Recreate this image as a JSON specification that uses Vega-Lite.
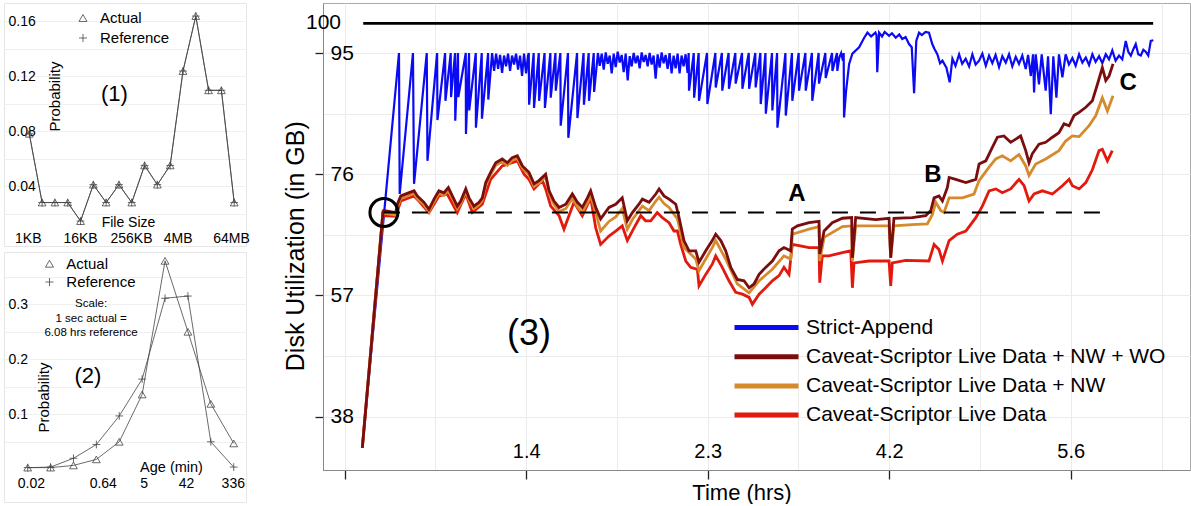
{
"$schema":"https://vega.github.io/schema/vega-lite/v6.json",
"padding":{"left":3,"top":2,"right":0,"bottom":0},
"autosize":{"type":"pad"},
"config":{"font":"Liberation Sans","view":{"stroke":null},"axis":{"labelFont":"Liberation Sans","titleFont":"Liberation Sans","labelColor":"#000","titleColor":"#000","titleFontWeight":"normal","labelOverlap":false,"labelFlush":false},"legend":{"labelFont":"Liberation Sans"},"text":{"font":"Liberation Sans"}},
"datasets":{
"fs":[
{"i":0,"p":0.078,"s":"Actual"},{"i":1,"p":0.028,"s":"Actual"},{"i":2,"p":0.028,"s":"Actual"},{"i":3,"p":0.028,"s":"Actual"},{"i":4,"p":0.0145,"s":"Actual"},{"i":5,"p":0.041,"s":"Actual"},{"i":6,"p":0.028,"s":"Actual"},{"i":7,"p":0.041,"s":"Actual"},{"i":8,"p":0.028,"s":"Actual"},{"i":9,"p":0.055,"s":"Actual"},{"i":10,"p":0.041,"s":"Actual"},{"i":11,"p":0.055,"s":"Actual"},{"i":12,"p":0.1236,"s":"Actual"},{"i":13,"p":0.1636,"s":"Actual"},{"i":14,"p":0.1096,"s":"Actual"},{"i":15,"p":0.1096,"s":"Actual"},{"i":16,"p":0.028,"s":"Actual"},
{"i":0,"p":0.078,"s":"Reference"},{"i":1,"p":0.028,"s":"Reference"},{"i":2,"p":0.028,"s":"Reference"},{"i":3,"p":0.028,"s":"Reference"},{"i":4,"p":0.0145,"s":"Reference"},{"i":5,"p":0.041,"s":"Reference"},{"i":6,"p":0.028,"s":"Reference"},{"i":7,"p":0.041,"s":"Reference"},{"i":8,"p":0.028,"s":"Reference"},{"i":9,"p":0.055,"s":"Reference"},{"i":10,"p":0.041,"s":"Reference"},{"i":11,"p":0.055,"s":"Reference"},{"i":12,"p":0.1236,"s":"Reference"},{"i":13,"p":0.1636,"s":"Reference"},{"i":14,"p":0.1096,"s":"Reference"},{"i":15,"p":0.1096,"s":"Reference"},{"i":16,"p":0.028,"s":"Reference"}],
"age":[
{"i":0,"p":0.003,"s":"Actual"},{"i":1,"p":0.003,"s":"Actual"},{"i":2,"p":0.007,"s":"Actual"},{"i":3,"p":0.018,"s":"Actual"},{"i":4,"p":0.05,"s":"Actual"},{"i":5,"p":0.136,"s":"Actual"},{"i":6,"p":0.379,"s":"Actual"},{"i":7,"p":0.25,"s":"Actual"},{"i":8,"p":0.119,"s":"Actual"},{"i":9,"p":0.047,"s":"Actual"},
{"i":0,"p":0.003,"s":"Reference"},{"i":1,"p":0.004,"s":"Reference"},{"i":2,"p":0.02,"s":"Reference"},{"i":3,"p":0.045,"s":"Reference"},{"i":4,"p":0.097,"s":"Reference"},{"i":5,"p":0.164,"s":"Reference"},{"i":6,"p":0.311,"s":"Reference"},{"i":7,"p":0.315,"s":"Reference"},{"i":8,"p":0.05,"s":"Reference"},{"i":9,"p":0.004,"s":"Reference"}],
"blue":[
{"t":9.7,"v":33.1},{"t":29.9,"v":95},{"t":30.3,"v":72.9},{"t":37.6,"v":95},{"t":38.2,"v":74.5},{"t":45.2,"v":95},{"t":45.6,"v":78.1},{"t":50.9,"v":95},{"t":51.1,"v":84.5},{"t":55.3,"v":95},{"t":55.5,"v":87.5},{"t":58.4,"v":95},{"t":58.6,"v":88.1},{"t":60.8,"v":95},{"t":60.9,"v":84.4},{"t":62.4,"v":95},{"t":62.6,"v":88.1},{"t":66.7,"v":95},{"t":66.8,"v":82.3},{"t":68.5,"v":95},{"t":68.6,"v":86.0},{"t":72.2,"v":95},{"t":72.3,"v":83.3},{"t":75.5,"v":95},{"t":75.6,"v":84.7},{"t":79.0,"v":95},{"t":79.1,"v":87.7},{"t":81.2,"v":95},
{"t":82.3,"v":92.2},{"t":83.4,"v":94.9},{"t":84.5,"v":92.5},{"t":85.6,"v":94.7},{"t":86.7,"v":91.9},{"t":87.8,"v":94.6},{"t":88.9,"v":92.9},{"t":90.0,"v":94.9},{"t":91.1,"v":92.2},{"t":92.2,"v":94.6},{"t":93.3,"v":93.2},{"t":94.4,"v":94.9},{"t":95.5,"v":92.4},{"t":96.6,"v":94.6},{"t":97.7,"v":91.4},{"t":98.8,"v":94.9},{"t":99.9,"v":91.8},{"t":101.0,"v":94.6},
{"t":101.4,"v":95},{"t":101.6,"v":86.9},{"t":104.1,"v":95},{"t":104.3,"v":86.4},{"t":106.9,"v":95},{"t":107.1,"v":87.5},{"t":110.1,"v":95},{"t":110.3,"v":86.4},{"t":113.3,"v":95},{"t":113.5,"v":88.0},{"t":116.1,"v":95},{"t":116.3,"v":89.1},{"t":118.8,"v":95},{"t":119.0,"v":83.6},{"t":123.0,"v":95},{"t":123.2,"v":81.7},{"t":128.0,"v":95},{"t":128.2,"v":84.8},{"t":131.6,"v":95},{"t":131.8,"v":86.9},{"t":134.4,"v":95},{"t":134.6,"v":87.5},{"t":137.2,"v":95},{"t":137.4,"v":88.9},{"t":139.5,"v":95},
{"t":140.5,"v":93.0},{"t":141.6,"v":94.9},{"t":142.7,"v":92.4},{"t":143.8,"v":95.1},{"t":144.9,"v":93.3},{"t":146.0,"v":94.6},{"t":147.1,"v":91.8},{"t":148.2,"v":94.9},{"t":149.3,"v":92.8},{"t":150.4,"v":95.2},{"t":151.5,"v":93.5},{"t":152.6,"v":94.7},{"t":153.7,"v":92.0},{"t":154.8,"v":94.9},{"t":155.9,"v":90.7},{"t":157.0,"v":94.5},{"t":158.1,"v":92.9},{"t":159.2,"v":95.0},{"t":160.3,"v":93.4},{"t":161.4,"v":94.6},{"t":162.5,"v":92.6},{"t":163.6,"v":95.1},{"t":164.7,"v":93.6},{"t":165.8,"v":94.7},{"t":166.9,"v":92.9},{"t":168.0,"v":95.0},{"t":169.1,"v":93.2},{"t":170.2,"v":94.6},{"t":171.3,"v":91.0},{"t":172.4,"v":94.8},{"t":173.5,"v":92.7},{"t":174.6,"v":95.1},{"t":175.7,"v":93.4},{"t":176.8,"v":94.7},{"t":177.9,"v":92.5},{"t":179.0,"v":95.0},{"t":180.1,"v":91.8},{"t":181.2,"v":94.6},{"t":182.3,"v":92.6},{"t":183.4,"v":94.9},{"t":184.5,"v":91.8},{"t":185.6,"v":94.6},{"t":186.7,"v":92.9},{"t":187.8,"v":94.8},{"t":188.9,"v":91.9},
{"t":189.5,"v":95},{"t":189.7,"v":89.1},{"t":192.3,"v":95},{"t":192.5,"v":88.0},{"t":195.0,"v":95},{"t":195.2,"v":87.5},{"t":199.6,"v":95},{"t":199.8,"v":87.0},{"t":204.2,"v":95},{"t":204.4,"v":89.6},{"t":207.8,"v":95},{"t":208.0,"v":89.1},{"t":211.5,"v":95},{"t":211.7,"v":89.4},{"t":215.2,"v":95},{"t":215.4,"v":90.2},{"t":218.9,"v":95},{"t":219.1,"v":89.4},{"t":222.6,"v":95},{"t":222.8,"v":89.4},{"t":226.2,"v":95},{"t":226.4,"v":89.6},{"t":229.0,"v":95},{"t":229.2,"v":87.0},{"t":231.8,"v":95},{"t":232.0,"v":85.5},{"t":235.4,"v":95},{"t":235.6,"v":86.0},{"t":238.2,"v":95},{"t":238.4,"v":83.3},{"t":242.8,"v":95},{"t":243.0,"v":85.2},{"t":246.4,"v":95},{"t":246.6,"v":87.5},{"t":250.1,"v":95},{"t":250.3,"v":89.1},{"t":253.8,"v":95},{"t":254.0,"v":89.1},{"t":257.4,"v":95},{"t":257.6,"v":87.5},{"t":261.1,"v":95},{"t":261.3,"v":90.2},{"t":264.8,"v":95},{"t":265.0,"v":91.1},{"t":268.5,"v":95},{"t":268.7,"v":92.2},{"t":271.2,"v":95},{"t":271.4,"v":92.2},{"t":272.5,"v":94.3},{"t":273.5,"v":95.0},{"t":274.5,"v":93.8},{"t":274.9,"v":95},{"t":275.1,"v":84.9},{"t":276.2,"v":89.0},{"t":277.9,"v":93.3},{"t":279.7,"v":94.9},{"t":283.4,"v":95.9},{"t":286.2,"v":97.4},{"t":288.0,"v":98.2},{"t":290.0,"v":97.6},{"t":292.4,"v":98.2},{"t":293.0,"v":97.8},{"t":293.4,"v":92.0},
{"t":294.4,"v":98.2},{"t":296.0,"v":97.6},{"t":297.5,"v":98.3},{"t":299.9,"v":97.7},{"t":301.5,"v":98.1},{"t":303.6,"v":97.4},{"t":305.5,"v":97.9},{"t":307.2,"v":97.2},{"t":309.0,"v":97.5},{"t":310.9,"v":96.4},{"t":312.4,"v":95.9},{"t":313.7,"v":88.7},{"t":314.9,"v":96.9},{"t":316.4,"v":98.2},{"t":318.0,"v":97.8},{"t":320.0,"v":98.3},{"t":321.9,"v":98.2},{"t":323.7,"v":96.4},{"t":325.0,"v":95.6},
{"t":326.5,"v":94.8},{"t":328.0,"v":93.4},{"t":329.3,"v":93.8},{"t":331.5,"v":92.7},{"t":333.3,"v":90.4},{"t":334.8,"v":94.1},{"t":336.5,"v":93.0},{"t":338.5,"v":94.8},{"t":340.2,"v":93.3},{"t":342.1,"v":94.1},{"t":344.0,"v":92.9},{"t":345.8,"v":94.8},{"t":347.6,"v":93.2},{"t":349.5,"v":93.8},{"t":351.3,"v":94.9},{"t":353.2,"v":93.0},{"t":355.0,"v":94.6},{"t":356.8,"v":93.4},{"t":358.6,"v":94.7},{"t":360.5,"v":92.8},{"t":362.3,"v":94.5},{"t":364.2,"v":93.5},{"t":366.0,"v":94.8},{"t":367.8,"v":92.9},{"t":369.7,"v":94.4},{"t":371.5,"v":93.3},{"t":373.3,"v":94.6},{"t":375.2,"v":92.5},{"t":376.5,"v":94.7},{"t":378.0,"v":91.4},{"t":379.2,"v":94.8},{"t":379.8,"v":88.8},{"t":380.7,"v":94.8},{"t":382.5,"v":90.1},{"t":384.0,"v":94.8},{"t":386.2,"v":89.1},{"t":387.5,"v":94.5},{"t":389.0,"v":85.4},{"t":390.4,"v":94.5},{"t":392.1,"v":88.0},{"t":393.5,"v":94.8},{"t":395.4,"v":91.2},{"t":397.2,"v":94.8},{"t":399.0,"v":93.2},{"t":400.9,"v":94.2},{"t":402.7,"v":93.0},{"t":404.6,"v":94.8},{"t":406.4,"v":93.5},{"t":408.3,"v":94.3},{"t":410.1,"v":93.1},{"t":411.9,"v":94.8},{"t":413.7,"v":93.6},{"t":415.6,"v":94.5},{"t":417.4,"v":93.4},{"t":419.3,"v":94.8},{"t":421.1,"v":94.0},{"t":422.9,"v":95.4},{"t":424.7,"v":93.8},{"t":426.6,"v":94.6},{"t":428.4,"v":94.0},{"t":430.3,"v":96.9},{"t":431.7,"v":95.2},{"t":433.1,"v":94.6},{"t":434.5,"v":95.6},{"t":435.8,"v":96.4},{"t":437.2,"v":94.8},{"t":438.6,"v":94.6},{"t":440.0,"v":95.5},{"t":441.3,"v":95.2},{"t":442.7,"v":94.6},{"t":444.1,"v":96.9},{"t":445.5,"v":97.0}],
"brown":[
{"t":9.7,"v":33.1},{"t":21.1,"v":70.1},{"t":21.7,"v":70.3},{"t":28.1,"v":70.0},{"t":29.0,"v":71.3},{"t":30.9,"v":72.6},{"t":34.5,"v":73.0},{"t":38.2,"v":73.4},{"t":40.0,"v":72.6},{"t":43.7,"v":71.6},{"t":46.4,"v":70.5},{"t":49.2,"v":72.1},{"t":51.9,"v":73.4},{"t":54.7,"v":73.1},{"t":57.1,"v":73.9},{"t":59.3,"v":72.6},{"t":62.0,"v":71.0},{"t":63.9,"v":71.8},{"t":66.7,"v":73.7},{"t":68.5,"v":72.3},{"t":71.2,"v":71.0},{"t":74.0,"v":71.6},{"t":75.8,"v":72.3},{"t":77.7,"v":74.7},{"t":80.4,"v":76.3},{"t":83.2,"v":77.8},{"t":86.8,"v":78.4},{"t":89.6,"v":77.8},{"t":92.3,"v":78.6},{"t":95.1,"v":78.9},{"t":97.9,"v":77.3},{"t":101.5,"v":76.3},{"t":104.3,"v":74.5},{"t":107.0,"v":75.0},{"t":110.7,"v":76.0},{"t":112.6,"v":73.4},{"t":115.3,"v":71.8},{"t":118.1,"v":70.8},{"t":121.8,"v":71.3},{"t":125.4,"v":72.9},{"t":128.2,"v":71.6},{"t":130.9,"v":70.8},{"t":133.7,"v":72.3},{"t":135.5,"v":73.4},{"t":138.3,"v":70.8},{"t":141.0,"v":69.0},{"t":145.6,"v":70.8},{"t":149.3,"v":71.3},{"t":152.9,"v":72.3},{"t":155.7,"v":68.7},{"t":158.5,"v":70.0},{"t":162.1,"v":71.3},{"t":164.0,"v":72.1},{"t":167.7,"v":71.6},{"t":171.4,"v":72.9},{"t":173.2,"v":73.7},{"t":175.9,"v":72.6},{"t":178.7,"v":72.1},{"t":182.4,"v":71.3},{"t":184.2,"v":69.2},{"t":186.9,"v":65.6},{"t":189.7,"v":64.0},{"t":193.4,"v":64.0},{"t":195.2,"v":62.2},{"t":198.9,"v":64.0},{"t":202.5,"v":65.6},{"t":204.4,"v":66.6},{"t":207.2,"v":65.6},{"t":209.9,"v":64.0},{"t":212.7,"v":61.4},{"t":216.3,"v":59.5},{"t":220.0,"v":59.3},{"t":222.8,"v":58.2},{"t":225.5,"v":58.8},{"t":228.3,"v":60.3},{"t":231.9,"v":61.4},{"t":235.6,"v":62.4},{"t":239.3,"v":64.0},{"t":242.0,"v":64.5},{"t":245.7,"v":64.0},{"t":246.6,"v":67.4},{"t":249.4,"v":67.9},{"t":255.8,"v":68.4},{"t":261.3,"v":68.6},{"t":261.7,"v":63.5},{"t":264.1,"v":67.1},{"t":268.6,"v":68.4},{"t":274.2,"v":69.1},{"t":279.3,"v":69.2},{"t":279.7,"v":62.9},{"t":281.5,"v":69.2},{"t":292.6,"v":68.9},{"t":299.9,"v":69.1},{"t":300.8,"v":62.9},{"t":302.6,"v":69.1},{"t":312.7,"v":69.2},{"t":320.1,"v":69.5},{"t":322.9,"v":70.3},{"t":324.7,"v":72.3},{"t":327.4,"v":72.6},{"t":329.3,"v":71.8},{"t":332.0,"v":73.9},{"t":333.0,"v":75.5},{"t":336.6,"v":75.2},{"t":342.2,"v":74.7},{"t":347.7,"v":75.2},{"t":349.5,"v":77.6},{"t":353.2,"v":78.1},{"t":356.8,"v":80.2},{"t":359.6,"v":81.8},{"t":363.2,"v":82.0},{"t":366.9,"v":81.0},{"t":369.7,"v":81.5},{"t":372.4,"v":82.0},{"t":375.2,"v":79.7},{"t":377.0,"v":77.8},{"t":378.8,"v":79.2},{"t":382.5,"v":80.7},{"t":386.2,"v":81.0},{"t":389.9,"v":81.8},{"t":393.5,"v":82.5},{"t":396.3,"v":83.9},{"t":399.1,"v":83.6},{"t":401.8,"v":85.2},{"t":404.6,"v":85.7},{"t":408.3,"v":86.5},{"t":411.9,"v":87.5},{"t":414.7,"v":90.1},{"t":417.4,"v":92.7},{"t":419.3,"v":90.7},{"t":421.1,"v":91.4},{"t":423.3,"v":93.3}],
"orange":[
{"t":9.7,"v":33.1},{"t":21.1,"v":70.1},{"t":21.7,"v":69.9},{"t":28.1,"v":69.6},{"t":29.0,"v":70.9},{"t":30.9,"v":72.2},{"t":34.5,"v":72.6},{"t":38.2,"v":73.0},{"t":40.0,"v":72.2},{"t":43.7,"v":71.2},{"t":46.4,"v":70.1},{"t":49.2,"v":71.7},{"t":51.9,"v":73.0},{"t":54.7,"v":72.7},{"t":57.1,"v":73.5},{"t":59.3,"v":72.2},{"t":62.0,"v":70.6},{"t":63.9,"v":71.4},{"t":66.7,"v":73.3},{"t":68.5,"v":71.9},{"t":71.2,"v":70.6},{"t":74.0,"v":71.2},{"t":75.8,"v":71.9},{"t":77.7,"v":74.3},{"t":80.4,"v":75.9},{"t":83.2,"v":77.4},{"t":86.8,"v":78.0},{"t":89.6,"v":77.4},{"t":92.3,"v":78.2},{"t":95.1,"v":78.5},{"t":97.9,"v":76.9},{"t":101.5,"v":75.9},{"t":104.3,"v":74.1},{"t":107.0,"v":74.6},{"t":110.7,"v":75.6},{"t":112.6,"v":73.0},{"t":115.3,"v":71.3},{"t":118.1,"v":70.2},{"t":121.8,"v":70.6},{"t":125.4,"v":72.2},{"t":128.2,"v":70.9},{"t":130.9,"v":70.0},{"t":133.7,"v":71.5},{"t":135.5,"v":72.6},{"t":138.3,"v":70.0},{"t":141.0,"v":67.1},{"t":145.6,"v":68.6},{"t":149.3,"v":69.3},{"t":152.9,"v":70.6},{"t":155.7,"v":67.4},{"t":158.5,"v":68.9},{"t":162.1,"v":70.3},{"t":164.0,"v":71.0},{"t":167.7,"v":70.3},{"t":171.4,"v":71.8},{"t":173.2,"v":72.4},{"t":175.9,"v":71.4},{"t":178.7,"v":70.8},{"t":183.3,"v":69.0},{"t":186.9,"v":64.5},{"t":193.4,"v":62.7},{"t":195.2,"v":60.9},{"t":202.5,"v":64.5},{"t":204.4,"v":65.6},{"t":209.9,"v":62.7},{"t":216.3,"v":58.8},{"t":222.8,"v":57.4},{"t":228.3,"v":59.3},{"t":235.6,"v":61.1},{"t":242.0,"v":63.2},{"t":245.7,"v":62.7},{"t":246.6,"v":66.6},{"t":255.8,"v":67.4},{"t":261.3,"v":67.8},{"t":261.7,"v":62.4},{"t":264.1,"v":66.1},{"t":274.2,"v":67.8},{"t":279.3,"v":67.9},{"t":279.7,"v":62.4},{"t":281.5,"v":67.9},{"t":299.9,"v":67.9},{"t":300.8,"v":62.9},{"t":302.6,"v":67.9},{"t":312.7,"v":68.1},{"t":321.0,"v":68.2},{"t":323.8,"v":69.7},{"t":325.6,"v":71.6},{"t":328.4,"v":70.3},{"t":330.2,"v":70.0},{"t":333.0,"v":72.3},{"t":340.3,"v":72.3},{"t":346.7,"v":72.9},{"t":349.5,"v":75.0},{"t":355.0,"v":77.1},{"t":358.7,"v":78.4},{"t":362.3,"v":78.9},{"t":366.9,"v":78.1},{"t":371.5,"v":79.1},{"t":375.2,"v":77.3},{"t":377.0,"v":75.8},{"t":380.7,"v":77.6},{"t":386.2,"v":78.4},{"t":393.5,"v":79.7},{"t":397.2,"v":81.2},{"t":400.9,"v":82.0},{"t":404.6,"v":81.9},{"t":410.1,"v":83.6},{"t":413.8,"v":85.2},{"t":417.4,"v":88.0},{"t":420.2,"v":85.9},{"t":423.3,"v":88.3}],
"red":[
{"t":9.7,"v":33.1},{"t":21.1,"v":70.1},{"t":21.7,"v":69.5},{"t":28.1,"v":69.4},{"t":30.9,"v":71.8},{"t":38.2,"v":72.6},{"t":40.9,"v":71.8},{"t":46.4,"v":70.0},{"t":51.9,"v":72.6},{"t":56.5,"v":72.9},{"t":62.0,"v":70.0},{"t":66.7,"v":72.9},{"t":70.3,"v":70.0},{"t":75.8,"v":71.3},{"t":80.4,"v":75.2},{"t":86.8,"v":77.3},{"t":92.3,"v":77.8},{"t":95.1,"v":78.1},{"t":98.8,"v":76.0},{"t":101.5,"v":75.2},{"t":104.3,"v":73.7},{"t":108.9,"v":75.0},{"t":110.7,"v":73.7},{"t":113.5,"v":71.0},{"t":118.1,"v":69.5},{"t":120.8,"v":67.4},{"t":126.3,"v":71.6},{"t":130.9,"v":69.5},{"t":135.5,"v":72.3},{"t":138.3,"v":67.6},{"t":141.0,"v":65.0},{"t":145.6,"v":66.3},{"t":149.3,"v":67.1},{"t":152.9,"v":67.9},{"t":155.7,"v":65.6},{"t":159.4,"v":67.6},{"t":163.1,"v":69.5},{"t":165.8,"v":68.7},{"t":168.6,"v":68.7},{"t":172.2,"v":70.0},{"t":175.0,"v":69.2},{"t":178.7,"v":68.4},{"t":181.4,"v":67.1},{"t":183.3,"v":67.1},{"t":185.1,"v":65.0},{"t":187.9,"v":62.4},{"t":190.6,"v":61.4},{"t":194.3,"v":61.1},{"t":195.2,"v":58.5},{"t":198.9,"v":60.3},{"t":202.5,"v":61.9},{"t":204.4,"v":63.2},{"t":208.0,"v":61.4},{"t":211.7,"v":59.3},{"t":215.4,"v":57.5},{"t":219.1,"v":57.2},{"t":222.8,"v":56.7},{"t":224.6,"v":55.6},{"t":228.3,"v":57.2},{"t":231.9,"v":58.2},{"t":235.6,"v":59.3},{"t":239.3,"v":60.1},{"t":242.0,"v":61.4},{"t":244.8,"v":60.3},{"t":246.6,"v":65.0},{"t":250.3,"v":64.8},{"t":255.8,"v":64.5},{"t":261.3,"v":64.5},{"t":261.7,"v":59.0},{"t":263.1,"v":63.2},{"t":266.8,"v":63.2},{"t":274.2,"v":63.7},{"t":278.8,"v":64.0},{"t":279.7,"v":58.2},{"t":280.6,"v":62.1},{"t":288.9,"v":62.4},{"t":299.9,"v":62.4},{"t":300.8,"v":58.5},{"t":301.7,"v":62.1},{"t":309.1,"v":62.5},{"t":321.9,"v":62.4},{"t":324.7,"v":65.0},{"t":327.4,"v":64.2},{"t":329.3,"v":62.4},{"t":333.0,"v":65.6},{"t":337.5,"v":66.6},{"t":342.2,"v":67.1},{"t":347.7,"v":69.2},{"t":351.3,"v":71.0},{"t":355.0,"v":73.4},{"t":358.7,"v":73.7},{"t":362.3,"v":73.1},{"t":366.9,"v":73.7},{"t":371.5,"v":75.2},{"t":374.3,"v":74.2},{"t":377.0,"v":71.8},{"t":379.8,"v":72.9},{"t":384.4,"v":73.4},{"t":389.9,"v":72.9},{"t":395.4,"v":74.2},{"t":399.1,"v":75.2},{"t":400.9,"v":74.2},{"t":404.6,"v":73.7},{"t":408.3,"v":74.7},{"t":411.9,"v":76.7},{"t":415.6,"v":79.7},{"t":417.4,"v":79.9},{"t":420.2,"v":78.1},{"t":422.9,"v":79.7}]
},
"bounds":"flush",
"spacing":319,
"resolve":{"scale":{"color":"independent","shape":"independent"},"legend":{"color":"independent","shape":"independent"}},
"hconcat":[
{"vconcat":[
{"width":242,"height":243,"view":{"stroke":"#e6e6e6"},"data":{"name":"fs"},
"encoding":{
"x":{"field":"i","type":"quantitative","scale":{"domain":[-1.975,16.92],"nice":false,"zero":false},"axis":{"values":[-0.12,3.96,7.94,11.58,15.75],"labelExpr":"datum.value < 2 ? '1KB' : datum.value < 6 ? '16KB' : datum.value < 10 ? '256KB' : datum.value < 14 ? '4MB' : '64MB'","ticks":false,"domain":false,"grid":false,"labelFontSize":14,"labelPadding":-8,"labelBaseline":"middle","title":"File Size","titleFontSize":14,"titleX":124,"titleY":-19.5,"titleBaseline":"alphabetic","titleAlign":"center","titleAngle":0}},
"y":{"field":"p","type":"quantitative","scale":{"domain":[-0.0036,0.1731],"nice":false,"zero":false},"axis":{"values":[0.02,0.04,0.06,0.08,0.1,0.12,0.14,0.16],"labelExpr":"round(datum.value*100) % 4 == 0 ? format(datum.value,'.2f') : ''","ticks":false,"domain":false,"gridColor":"#f0f0f0","labelFontSize":14,"labelAlign":"left","labelPadding":-4,"labelBaseline":"middle","title":"Probability","titleFontSize":15,"titleX":55,"titleY":93,"titleAngle":270,"titleBaseline":"alphabetic","titleAlign":"center"}}},
"layer":[
{"mark":{"type":"line","color":"#444","strokeWidth":0.8},"encoding":{"detail":{"field":"s","type":"nominal"}}},
{"mark":{"type":"point","filled":false,"color":"#444","strokeWidth":0.8,"size":60,"opacity":1},"encoding":{"shape":{"field":"s","type":"nominal","scale":{"domain":["Actual","Reference"],"range":["triangle-up","M-1,0H1M0,-1V1"]},"legend":{"orient":"none","legendX":71.5,"legendY":7.5,"title":null,"labelFontSize":15,"labelOffset":9.5,"symbolSize":64,"rowPadding":4,"padding":0,"symbolStrokeColor":"#444","symbolStrokeWidth":0.8,"symbolFillColor":"transparent","labelColor":"#000"}}}},
{"data":{"values":[{"i":6.65,"p":0.1069,"lab":"(1)"}]},"mark":{"type":"text","fontSize":22,"color":"#000"},"encoding":{"text":{"field":"lab"}}}
]},
{"width":242,"height":250,"view":{"stroke":"#e6e6e6"},"data":{"name":"age"},
"encoding":{
"x":{"field":"i","type":"quantitative","scale":{"domain":[-1.035,9.537],"nice":false,"zero":false},"axis":{"values":[0.14,3.28,5.07,6.92,8.96],"labelExpr":"datum.value < 1 ? '0.02' : datum.value < 4 ? '0.64' : datum.value < 6 ? '5' : datum.value < 8 ? '42' : '336'","ticks":false,"domain":false,"grid":false,"labelFontSize":14,"labelPadding":-19,"labelBaseline":"middle","title":"Age (min)","titleFontSize":14.5,"titleX":167,"titleY":-31,"titleBaseline":"alphabetic","titleAlign":"center","titleAngle":0}},
"y":{"field":"p","type":"quantitative","scale":{"domain":[-0.0595,0.3951],"nice":false,"zero":false},"axis":{"values":[0.05,0.1,0.15,0.2,0.25,0.3,0.35],"labelExpr":"round(datum.value*100) % 10 == 0 ? format(datum.value,'.1f') : ''","ticks":false,"domain":false,"gridColor":"#f0f0f0","labelFontSize":14,"labelAlign":"left","labelPadding":-4,"labelBaseline":"middle","title":"Probability","titleFontSize":15,"titleX":44.5,"titleY":145,"titleAngle":270,"titleBaseline":"alphabetic","titleAlign":"center"}}},
"layer":[
{"mark":{"type":"line","color":"#444","strokeWidth":0.8},"encoding":{"detail":{"field":"s","type":"nominal"}}},
{"mark":{"type":"point","filled":false,"color":"#444","strokeWidth":0.8,"size":60,"opacity":1},"encoding":{"shape":{"field":"s","type":"nominal","scale":{"domain":["Actual","Reference"],"range":["triangle-up","M-1,0H1M0,-1V1"]},"legend":{"orient":"none","legendX":38,"legendY":4.2,"title":null,"labelFontSize":15,"labelOffset":9.3,"symbolSize":64,"rowPadding":2.3,"padding":0,"symbolStrokeColor":"#444","symbolStrokeWidth":0.8,"symbolFillColor":"transparent","labelColor":"#000"}}}},
{"data":{"values":[{"i":2.63,"p":0.1696,"lab":"(2)"}]},"mark":{"type":"text","fontSize":22,"color":"#000"},"encoding":{"text":{"field":"lab"}}},
{"data":{"values":[{"i":2.77,"p":0.3,"lab":"Scale:"},{"i":2.77,"p":0.2727,"lab":"1 sec actual ="},{"i":2.77,"p":0.2484,"lab":"6.08 hrs reference"}]},"mark":{"type":"text","fontSize":11.5,"color":"#000"},"encoding":{"text":{"field":"lab"}}}
]}
],"spacing":6,"bounds":"flush","resolve":{"scale":{"shape":"independent"},"legend":{"shape":"independent"}}},
{"width":867,"height":467,"view":{"stroke":"#aaaaaa"},
"encoding":{
"x":{"field":"t","type":"quantitative","scale":{"domain":[-11.96,465.7],"nice":false,"zero":false},"axis":{"values":[0,50,100,150,200,250,300,350,400,450],"labelExpr":"datum.value==100?'1.4':datum.value==200?'2.3':datum.value==300?'4.2':datum.value==400?'5.6':''","tickOpacity":{"condition":{"test":"datum.value % 100 == 0","value":1},"value":0},"tickSize":9,"tickColor":"#222","tickWidth":1.3,"domainColor":"#888","gridColor":"#ebebeb","labelFontSize":20,"labelBaseline":"middle","labelPadding":-28,"title":"Time (hrs)","titleFontSize":22,"titleX":418.5,"titleY":29,"titleBaseline":"alphabetic","titleAlign":"center"}},
"y":{"field":"v","type":"quantitative","scale":{"domain":[29.64,102.84],"nice":false,"zero":false},"axis":{"values":[38,47.5,57,66.5,76,85.5,95],"labelExpr":"datum.value % 19 == 0 ? format(datum.value,'d') : ''","tickOpacity":{"condition":{"test":"datum.value % 19 == 0","value":1},"value":0},"tickSize":8,"tickColor":"#222","tickWidth":1.3,"domainColor":"#888","gridColor":"#ebebeb","labelFontSize":21,"labelAlign":"left","labelBaseline":"middle","labelPadding":-15,"title":"Disk Utilization (in GB)","titleFontSize":25,"titleX":-20,"titleY":242.7,"titleAngle":270,"titleBaseline":"alphabetic","titleAlign":"center"}}},
"layer":[
{"data":{"name":"blue"},"mark":{"type":"line","strokeWidth":2.2},"encoding":{"color":{"datum":"Strict-Append","type":"nominal","scale":{"domain":["Strict-Append","Caveat-Scriptor Live Data + NW + WO","Caveat-Scriptor Live Data + NW","Caveat-Scriptor Live Data"],"range":["#0a0af5","#7a0d0d","#d68a2c","#e3190e"]},"legend":{"orient":"none","legendX":433,"legendY":314,"title":null,"labelFontSize":21,"labelColor":"#000","labelLimit":600,"symbolType":"M-4,0H4","symbolSize":256,"symbolStrokeWidth":5,"labelOffset":29,"rowPadding":7.2,"padding":0}}}},
{"data":{"name":"red"},"mark":{"type":"line","strokeWidth":2.8},"encoding":{"color":{"datum":"Caveat-Scriptor Live Data","type":"nominal"}}},
{"data":{"name":"orange"},"mark":{"type":"line","strokeWidth":2.8},"encoding":{"color":{"datum":"Caveat-Scriptor Live Data + NW","type":"nominal"}}},
{"data":{"name":"brown"},"mark":{"type":"line","strokeWidth":2.8},"encoding":{"color":{"datum":"Caveat-Scriptor Live Data + NW + WO","type":"nominal"}}},
{"data":{"values":[{"t":10.2,"v":99.65},{"t":445.4,"v":99.65}]},"mark":{"type":"line","color":"#000","strokeWidth":2.6},"encoding":{}},
{"data":{"values":[{"t":21.6,"v":70.0},{"t":421.1,"v":70.0}]},"mark":{"type":"line","color":"#000","strokeWidth":2,"strokeDash":[16,12]},"encoding":{}},
{"data":{"values":[{"t":21.6,"v":70.0}]},"mark":{"type":"point","shape":"circle","filled":false,"color":"#000","strokeWidth":3,"size":784,"opacity":1},"encoding":{}},
{"data":{"values":[{"t":249.2,"v":72.9,"lab":"A"},{"t":324.1,"v":75.9,"lab":"B"},{"t":431.6,"v":90.3,"lab":"C"}]},"mark":{"type":"text","fontSize":24,"fontWeight":"bold","color":"#000"},"encoding":{"text":{"field":"lab"}}},
{"data":{"values":[{"t":101.5,"v":51.0,"lab":"(3)"}]},"mark":{"type":"text","fontSize":36,"color":"#000"},"encoding":{"text":{"field":"lab"}}},
{"data":{"values":[{"t":-11.7,"v":99.65,"lab":"100"}]},"mark":{"type":"text","fontSize":21,"color":"#000"},"encoding":{"text":{"field":"lab"}}}
]}
]
}
